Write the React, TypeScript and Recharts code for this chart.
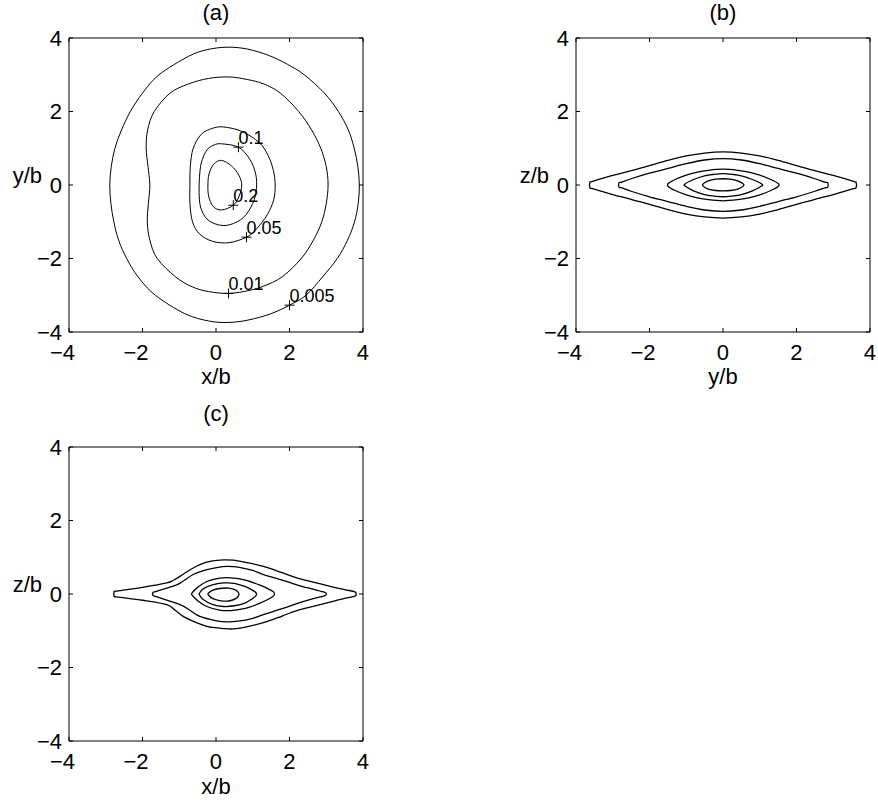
import { Label, Scatter, ScatterChart, XAxis, YAxis } from 'recharts';

type Pt = [number, number];

const TICKS = [-4, -2, 0, 2, 4];
const FONT = '"Liberation Sans", Arial, Helvetica, sans-serif';

// (a) x/b – y/b plane, rings from 0.005 (outside) to 0.2 (inside)
const A_C005: Pt[] = [
  [0.3, 3.75], [0.85, 3.7], [1.45, 3.52], [1.95, 3.28], [2.4, 3.0], [2.95, 2.5],
  [3.33, 2.0], [3.6, 1.5], [3.76, 1.0], [3.86, 0.5], [3.9, 0.0], [3.87, -0.5],
  [3.77, -1.0], [3.58, -1.5], [3.3, -2.0], [2.9, -2.5], [2.45, -3.0], [2.0, -3.27],
  [1.5, -3.5], [0.9, -3.67], [0.35, -3.74], [-0.2, -3.7], [-0.85, -3.5], [-1.65, -3.0],
  [-2.12, -2.5], [-2.43, -2.0], [-2.65, -1.5], [-2.78, -1.0], [-2.86, -0.5], [-2.89, 0.0],
  [-2.85, 0.5], [-2.75, 1.0], [-2.57, 1.5], [-2.33, 2.0], [-2.0, 2.5], [-1.55, 3.0],
  [-0.75, 3.5], [-0.25, 3.68],
];
const A_C01: Pt[] = [
  [0.35, 2.94], [0.85, 2.87], [1.3, 2.75], [1.75, 2.5], [2.25, 2.0], [2.6, 1.5],
  [2.85, 1.0], [3.0, 0.5], [3.05, 0.0], [3.0, -0.5], [2.88, -1.0], [2.65, -1.5],
  [2.32, -2.0], [1.8, -2.5], [1.3, -2.75], [0.9, -2.87], [0.34, -2.95], [-0.2, -2.9],
  [-0.65, -2.77], [-1.1, -2.5], [-1.6, -2.0], [-1.8, -1.5], [-1.87, -1.0], [-1.84, -0.5],
  [-1.8, 0.0], [-1.85, 0.5], [-1.9, 1.0], [-1.86, 1.5], [-1.68, 2.0], [-1.25, 2.5],
  [-0.75, 2.75], [-0.2, 2.9],
];
const A_C05: Pt[] = [
  [0.2, 1.58], [0.7, 1.46], [1.18, 1.15], [1.42, 0.8], [1.56, 0.4], [1.61, 0.0],
  [1.57, -0.4], [1.4, -0.8], [1.1, -1.2], [0.83, -1.42], [0.35, -1.57], [-0.1, -1.53],
  [-0.45, -1.33], [-0.64, -1.0], [-0.71, -0.5], [-0.71, 0.0], [-0.7, 0.5], [-0.62, 1.0],
  [-0.4, 1.38], [-0.1, 1.54],
];
const A_C1: Pt[] = [
  [0.15, 1.12], [0.61, 1.03], [0.92, 0.7], [1.08, 0.3], [1.1, -0.1], [1.0, -0.5],
  [0.75, -0.88], [0.38, -1.08], [0.05, -1.08], [-0.25, -0.92], [-0.42, -0.6], [-0.46, -0.2],
  [-0.45, 0.2], [-0.4, 0.6], [-0.25, 0.95], [-0.05, 1.09],
];
const A_C2: Pt[] = [
  [0.15, 0.67], [0.42, 0.52], [0.62, 0.27], [0.7, 0.0], [0.63, -0.3], [0.47, -0.55],
  [0.15, -0.68], [-0.08, -0.58], [-0.2, -0.3], [-0.22, 0.0], [-0.19, 0.3], [-0.06, 0.57],
];
const A_LABELS = [
  { x: 0.61, y: 1.03, text: '0.1' },
  { x: 0.47, y: -0.55, text: '0.2' },
  { x: 0.83, y: -1.42, text: '0.05' },
  { x: 0.34, y: -2.95, text: '0.01' },
  { x: 2.0, y: -3.27, text: '0.005' },
];

// (b) y/b – z/b plane
const B_C005: Pt[] = [
  [-3.62, 0.07], [-3.55, 0.1], [-3.0, 0.26], [-2.5, 0.39], [-2.0, 0.53], [-1.5, 0.67],
  [-1.0, 0.79], [-0.5, 0.87], [0.0, 0.9], [0.5, 0.87], [1.0, 0.79], [1.5, 0.67],
  [2.0, 0.53], [2.5, 0.39], [3.0, 0.26], [3.55, 0.1], [3.62, 0.07], [3.62, -0.07],
  [3.55, -0.1], [3.0, -0.26], [2.5, -0.39], [2.0, -0.53], [1.5, -0.67], [1.0, -0.79],
  [0.5, -0.87], [0.0, -0.9], [-0.5, -0.87], [-1.0, -0.79], [-1.5, -0.67], [-2.0, -0.53],
  [-2.5, -0.39], [-3.0, -0.26], [-3.55, -0.1], [-3.62, -0.07],
];
const B_C01: Pt[] = [
  [-2.83, 0.06], [-2.75, 0.08], [-2.5, 0.17], [-2.0, 0.32], [-1.5, 0.45], [-1.0, 0.58],
  [-0.5, 0.68], [0.0, 0.72], [0.5, 0.68], [1.0, 0.58], [1.5, 0.45], [2.0, 0.32],
  [2.5, 0.17], [2.77, 0.08], [2.85, 0.06], [2.85, -0.06], [2.77, -0.08], [2.5, -0.17],
  [2.0, -0.32], [1.5, -0.45], [1.0, -0.58], [0.5, -0.68], [0.0, -0.72], [-0.5, -0.68],
  [-1.0, -0.58], [-1.5, -0.45], [-2.0, -0.32], [-2.5, -0.17], [-2.75, -0.08], [-2.83, -0.06],
];
const B_C05: Pt[] = [
  [-1.49, 0.04], [-1.3, 0.15], [-1.0, 0.27], [-0.7, 0.35], [-0.4, 0.4], [0.0, 0.43],
  [0.4, 0.4], [0.7, 0.35], [1.0, 0.27], [1.3, 0.15], [1.5, 0.04], [1.5, -0.04],
  [1.3, -0.15], [1.0, -0.27], [0.7, -0.35], [0.4, -0.4], [0.0, -0.43], [-0.4, -0.4],
  [-0.7, -0.35], [-1.0, -0.27], [-1.3, -0.15], [-1.49, -0.04],
];
const B_C1: Pt[] = [
  [-1.03, 0.03], [-0.8, 0.15], [-0.5, 0.25], [-0.25, 0.29], [0.0, 0.31], [0.25, 0.29],
  [0.5, 0.25], [0.8, 0.15], [1.05, 0.03], [1.05, -0.03], [0.8, -0.16], [0.5, -0.26],
  [0.25, -0.3], [0.0, -0.32], [-0.25, -0.3], [-0.5, -0.26], [-0.8, -0.16], [-1.03, -0.03],
];
const B_C2: Pt[] = [
  [-0.54, 0.03], [-0.4, 0.11], [-0.2, 0.16], [0.0, 0.17], [0.2, 0.16], [0.4, 0.11],
  [0.55, 0.03], [0.55, -0.03], [0.4, -0.11], [0.2, -0.15], [0.0, -0.16], [-0.2, -0.15],
  [-0.4, -0.11], [-0.54, -0.03],
];

// (c) x/b – z/b plane
const C_C005: Pt[] = [
  [-2.77, 0.05], [-2.7, 0.08], [-2.0, 0.18], [-1.34, 0.3], [-1.15, 0.38], [-0.98, 0.48],
  [-0.7, 0.66], [-0.44, 0.8], [-0.1, 0.9], [0.2, 0.93], [0.47, 0.92], [0.8, 0.86],
  [1.29, 0.75], [1.8, 0.58], [2.2, 0.44], [2.7, 0.31], [3.1, 0.21], [3.5, 0.12],
  [3.78, 0.06], [3.81, 0.0], [3.78, -0.06], [3.5, -0.12], [3.1, -0.22], [2.7, -0.32],
  [2.2, -0.45], [1.8, -0.6], [1.29, -0.78], [0.8, -0.9], [0.47, -0.95], [0.2, -0.94],
  [-0.1, -0.91], [-0.25, -0.88], [-0.6, -0.75], [-0.89, -0.61], [-1.1, -0.45], [-1.34, -0.29],
  [-2.0, -0.17], [-2.7, -0.08], [-2.77, -0.05],
];
const C_C01: Pt[] = [
  [-1.71, 0.04], [-1.6, 0.08], [-1.07, 0.25], [-0.85, 0.38], [-0.62, 0.53], [-0.3, 0.65],
  [0.02, 0.72], [0.3, 0.75], [0.6, 0.73], [1.0, 0.64], [1.29, 0.53], [1.8, 0.38],
  [2.2, 0.25], [2.6, 0.14], [2.95, 0.05], [3.0, 0.0], [2.95, -0.05], [2.6, -0.14],
  [2.2, -0.26], [1.8, -0.4], [1.29, -0.56], [1.0, -0.66], [0.6, -0.74], [0.3, -0.76],
  [0.02, -0.73], [-0.44, -0.61], [-0.7, -0.45], [-0.98, -0.29], [-1.6, -0.08], [-1.71, -0.04],
];
const C_C05: Pt[] = [
  [-0.65, 0.03], [-0.5, 0.18], [-0.25, 0.34], [0.1, 0.43], [0.4, 0.44], [0.8, 0.38],
  [1.2, 0.24], [1.5, 0.1], [1.58, 0.04], [1.58, -0.04], [1.5, -0.1], [1.2, -0.25],
  [0.8, -0.39], [0.4, -0.45], [0.1, -0.44], [-0.25, -0.34], [-0.5, -0.18], [-0.65, -0.03],
];
const C_C1: Pt[] = [
  [-0.45, 0.02], [-0.35, 0.14], [-0.1, 0.25], [0.2, 0.3], [0.5, 0.29], [0.8, 0.2],
  [1.0, 0.1], [1.09, 0.03], [1.09, -0.04], [1.0, -0.12], [0.8, -0.24], [0.5, -0.32],
  [0.2, -0.34], [-0.1, -0.28], [-0.35, -0.15], [-0.45, -0.02],
];
const C_C2: Pt[] = [
  [-0.21, 0.02], [-0.1, 0.1], [0.1, 0.15], [0.35, 0.16], [0.55, 0.1], [0.62, 0.02],
  [0.62, -0.03], [0.55, -0.12], [0.35, -0.19], [0.1, -0.18], [-0.1, -0.12], [-0.21, -0.02],
];

interface Mark {
  x: number;
  y: number;
  text: string;
}

interface PanelProps {
  // chart box on the page
  left: number;
  top: number;
  width: number;
  height: number;
  // plot area on the page
  x0: number;
  x1: number;
  y0: number;
  y1: number;
  title: string;
  titleGap: number;
  xLabel: string;
  xLabelGap: number;
  yLabel: string;
  contours: Pt[][];
  marks?: Mark[];
  lineWidth: number;
}

const FS = 22;
const Y_AXIS_W = 27;
const X_AXIS_H = 30;
const EDGE = 1; // size given to the tick-only top/right axes

const minusSign = (v: number) => String(v).replace('-', '\u2212');
const blank = () => '';
const noShape = () => <g />;

const toRows = (pts: Pt[]) => pts.map(([x, y]) => ({ x, y }));

// closed Catmull-Rom curve so the contour rings come out smooth
const smoothClosed = (context: any) => {
  let pts: Pt[] = [];
  return {
    areaStart() {},
    areaEnd() {},
    lineStart() {
      pts = [];
    },
    point(x: number, y: number) {
      pts.push([+x, +y]);
    },
    lineEnd() {
      const n = pts.length;
      if (!n) return;
      context.moveTo(pts[0][0], pts[0][1]);
      for (let i = 0; i < n; i++) {
        const p0 = pts[(i - 1 + n) % n];
        const p1 = pts[i];
        const p2 = pts[(i + 1) % n];
        const p3 = pts[(i + 2) % n];
        context.bezierCurveTo(
          p1[0] + (p2[0] - p0[0]) / 6,
          p1[1] + (p2[1] - p0[1]) / 6,
          p2[0] - (p3[0] - p1[0]) / 6,
          p2[1] - (p3[1] - p1[1]) / 6,
          p2[0],
          p2[1],
        );
      }
      context.closePath();
    },
  };
};

// x tick: the digit sits centred on the tick, a minus sign hangs off to the left
const XTick = (props: any) => {
  const { x, y, payload } = props;
  return (
    <text
      x={x + 0.278 * FS}
      y={y}
      dy="0.71em"
      textAnchor="end"
      fontSize={FS}
      fontFamily={FONT}
      fill="#000"
    >
      {minusSign(payload.value)}
    </text>
  );
};

// MATLAB style "+" with the contour level written up and to the right
const LevelMark = (props: any) => {
  const { cx, cy, payload } = props;
  return (
    <g>
      <line x1={cx - 5} x2={cx + 5} y1={cy} y2={cy} stroke="#000" strokeWidth={1} />
      <line x1={cx} x2={cx} y1={cy - 5} y2={cy + 5} stroke="#000" strokeWidth={1} />
      <text x={cx} y={cy - 3} fontSize={18} fill="#000" fontFamily={FONT}>
        {payload.text}
      </text>
    </g>
  );
};

const tickStyle = { fill: '#000', fontSize: FS, fontFamily: FONT };
const axisLine = { stroke: '#000', strokeWidth: 1 };
const tickLine = { stroke: '#000', strokeWidth: 1 };

const Panel = (p: PanelProps) => {
  const margin = {
    top: p.y0 - p.top - EDGE,
    left: p.x0 - p.left - Y_AXIS_W,
    right: p.left + p.width - p.x1 - EDGE,
    bottom: p.top + p.height - p.y1 - X_AXIS_H,
  };
  const last = p.contours.length - 1;
  return (
    <div style={{ position: 'absolute', left: p.left, top: p.top }}>
      <ScatterChart width={p.width} height={p.height} margin={margin}>
        <XAxis
          type="number"
          dataKey="x"
          domain={[-4, 4]}
          ticks={TICKS}
          allowDataOverflow
          height={X_AXIS_H}
          tickSize={-4}
          tickMargin={16}
          tick={XTick}
          axisLine={axisLine}
          tickLine={tickLine}
        >
          <Label
            value={p.xLabel}
            position="bottom"
            offset={p.xLabelGap - X_AXIS_H - 0.71 * FS}
            fill="#000"
            fontSize={FS}
            fontFamily={FONT}
          />
        </XAxis>
        <XAxis
          xAxisId="top"
          orientation="top"
          type="number"
          dataKey="x"
          domain={[-4, 4]}
          ticks={TICKS}
          allowDataOverflow
          height={EDGE}
          tickSize={-4}
          tickFormatter={blank}
          axisLine={axisLine}
          tickLine={tickLine}
        >
          <Label
            value={p.title}
            position="top"
            offset={p.titleGap - EDGE}
            fill="#000"
            fontSize={FS}
            fontFamily={FONT}
          />
        </XAxis>
        <YAxis
          type="number"
          dataKey="y"
          domain={[-4, 4]}
          ticks={TICKS}
          allowDataOverflow
          width={Y_AXIS_W}
          tickSize={-4}
          tickMargin={11}
          tick={tickStyle}
          tickFormatter={minusSign}
          axisLine={axisLine}
          tickLine={tickLine}
        >
          <Label
            value={p.yLabel}
            position="left"
            offset={0}
            dy={-10}
            fill="#000"
            fontSize={FS}
            fontFamily={FONT}
          />
        </YAxis>
        <YAxis
          yAxisId="right"
          orientation="right"
          type="number"
          dataKey="y"
          domain={[-4, 4]}
          ticks={TICKS}
          allowDataOverflow
          width={EDGE}
          tickSize={-4}
          tickFormatter={blank}
          axisLine={axisLine}
          tickLine={tickLine}
        />
        {p.contours.map((pts, i) => (
          <Scatter
            key={i}
            data={toRows(pts)}
            // innermost ring is tied to the top/right axes so they get drawn too
            xAxisId={i === last ? 'top' : 0}
            yAxisId={i === last ? 'right' : 0}
            line={{ stroke: '#000', strokeWidth: p.lineWidth }}
            lineType="joint"
            lineJointType={smoothClosed as any}
            shape={noShape}
            isAnimationActive={false}
          />
        ))}
        {p.marks ? (
          <Scatter data={p.marks} shape={LevelMark} isAnimationActive={false} />
        ) : null}
      </ScatterChart>
    </div>
  );
};

const App = () => (
  <div
    style={{
      position: 'absolute',
      left: 0,
      top: 0,
      width: 878,
      height: 805,
      background: '#fff',
      fontFamily: FONT,
    }}
  >
    <Panel
      left={0}
      top={0}
      width={380}
      height={400}
      x0={69}
      x1={363}
      y0={38}
      y1={332}
      title="(a)"
      titleGap={18}
      xLabel="x/b"
      xLabelGap={52}
      yLabel="y/b"
      contours={[A_C005, A_C01, A_C05, A_C1, A_C2]}
      marks={A_LABELS}
      lineWidth={1}
    />
    <Panel
      left={440}
      top={0}
      width={438}
      height={400}
      x0={576}
      x1={870}
      y0={38}
      y1={332}
      title="(b)"
      titleGap={18}
      xLabel="y/b"
      xLabelGap={52}
      yLabel="z/b"
      contours={[B_C005, B_C01, B_C05, B_C1, B_C2]}
      lineWidth={1.3}
    />
    <Panel
      left={0}
      top={400}
      width={380}
      height={405}
      x0={69}
      x1={363}
      y0={447}
      y1={741}
      title="(c)"
      titleGap={26}
      xLabel="x/b"
      xLabelGap={53}
      yLabel="z/b"
      contours={[C_C005, C_C01, C_C05, C_C1, C_C2]}
      lineWidth={1.3}
    />
  </div>
);

export default App;
